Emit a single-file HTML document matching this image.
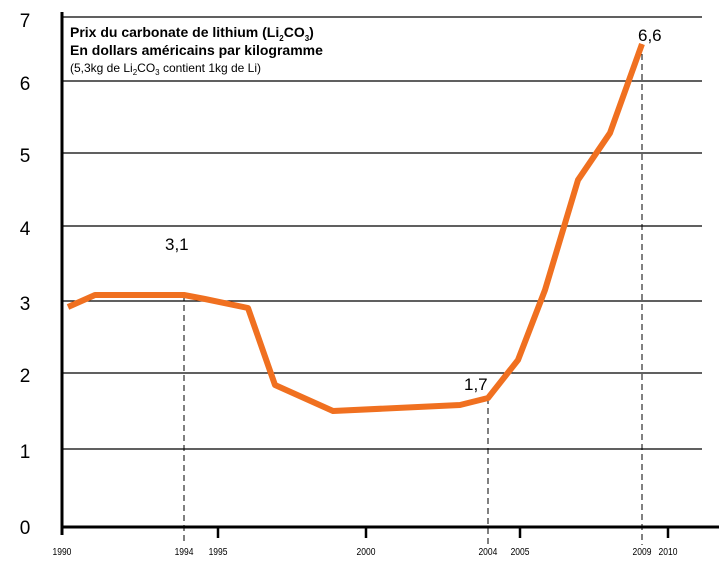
<!DOCTYPE html>
<html><head><meta charset="utf-8"><style>
html,body{margin:0;padding:0;background:#fff;}
svg{display:block;font-family:"Liberation Sans",sans-serif;}
</style></head><body>
<svg width="719" height="569" viewBox="0 0 719 569" xmlns="http://www.w3.org/2000/svg">
<rect width="719" height="569" fill="#fff"/>
<g stroke="#000" stroke-width="1.3">
<line x1="62" y1="17" x2="702" y2="17"/>
<line x1="62" y1="81" x2="702" y2="81"/>
<line x1="62" y1="153" x2="702" y2="153"/>
<line x1="62" y1="226" x2="702" y2="226"/>
<line x1="62" y1="301" x2="702" y2="301"/>
<line x1="62" y1="373" x2="702" y2="373"/>
<line x1="62" y1="449" x2="702" y2="449"/>
</g>
<g stroke="#000" stroke-width="1" stroke-dasharray="6,4">
<line x1="184" y1="295" x2="184" y2="545"/>
<line x1="488" y1="398" x2="488" y2="545"/>
<line x1="642" y1="44" x2="642" y2="545"/>
</g>
<line x1="62" y1="12" x2="62" y2="535" stroke="#000" stroke-width="3"/>
<line x1="62" y1="527" x2="719" y2="527" stroke="#000" stroke-width="3"/>
<g stroke="#000" stroke-width="2.5">
<line x1="218" y1="527" x2="218" y2="538"/>
<line x1="366" y1="527" x2="366" y2="538"/>
<line x1="520" y1="527" x2="520" y2="538"/>
<line x1="668" y1="527" x2="668" y2="538"/>
</g>
<g font-size="19" text-anchor="middle" fill="#000">
<text x="25" y="27">7</text><text x="25" y="90">6</text><text x="25" y="162">5</text>
<text x="25" y="235">4</text><text x="25" y="310">3</text><text x="25" y="382">2</text>
<text x="25" y="458">1</text><text x="25" y="534">0</text>
</g>
<g font-size="10" text-anchor="middle" fill="#000" transform="scale(0.85,1)">
<text x="72.9" y="555">1990</text><text x="216.5" y="555">1994</text><text x="256.5" y="555">1995</text>
<text x="430.6" y="555">2000</text><text x="574" y="555">2004</text><text x="611.8" y="555">2005</text>
<text x="755.3" y="555">2009</text><text x="785.9" y="555">2010</text>
</g>
<polyline fill="none" stroke="#f07020" stroke-width="6" stroke-linejoin="round" points="68,307 95,295 184,295 205,299 248,308 275,385 333,411 460,405 488,398 518,360 545,290 578,180 610,133 642,44"/>
<g font-size="17" fill="#000">
<text x="165" y="250">3,1</text>
<text x="464" y="390">1,7</text>
<text x="638" y="41">6,6</text>
</g>
<g font-size="14" font-weight="bold" fill="#000">
<text x="70" y="37">Prix du carbonate de lithium (Li<tspan font-size="8" dy="4">2</tspan><tspan dy="-4">CO</tspan><tspan font-size="8" dy="4">3</tspan><tspan dy="-4">)</tspan></text>
<text x="70" y="55">En dollars américains par kilogramme</text>
</g>
<text x="70" y="72" font-size="12" fill="#000">(5,3kg de Li<tspan font-size="8" dy="3">2</tspan><tspan dy="-3">CO</tspan><tspan font-size="8" dy="3">3</tspan><tspan dy="-3"> contient 1kg de Li)</tspan></text>
</svg>
</body></html>
